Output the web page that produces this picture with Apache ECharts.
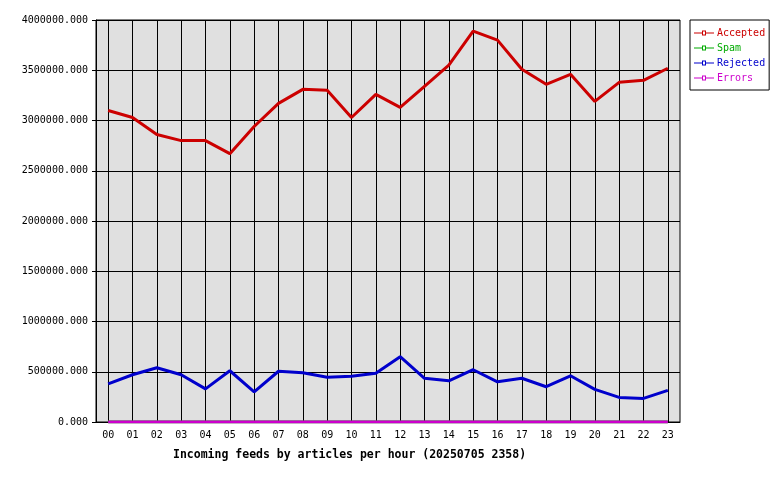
<!DOCTYPE html>
<html>
<head>
<meta charset="utf-8">
<script src="https://cdn.jsdelivr.net/npm/echarts@6/dist/echarts.min.js"></script>
<style>html,body{margin:0;padding:0;background:#fff}#c{width:780px;height:480px}</style>
</head>
<body>
<div id="c"></div>
<script>
const hours = ['00','01','02','03','04','05','06','07','08','09','10','11','12','13','14','15','16','17','18','19','20','21','22','23'];
const accepted = [3100000,3030000,2860000,2800000,2800000,2670000,2940000,3170000,3310000,3300000,3030000,3260000,3130000,3340000,3550000,3890000,3800000,3510000,3360000,3460000,3190000,3380000,3400000,3520000];
const spam = [0,0,0,0,0,0,0,0,0,0,0,0,0,0,0,0,0,0,0,0,0,0,0,0];
const rejected = [380000,470000,540000,470000,330000,510000,300000,505000,490000,445000,455000,485000,650000,435000,410000,520000,400000,435000,351000,460000,325000,245000,235000,315000];
const errors = [0,0,0,0,0,0,0,0,0,0,0,0,0,0,0,0,0,0,0,0,0,0,0,0];
const yTicks = {min: 0, max: 4000000, interval: 500000};
const titleText = 'Incoming feeds by articles per hour (20250705 2358)';

const font = 'DejaVu Sans Mono';
const colors = {Accepted:'#cc0000', Spam:'#00aa00', Rejected:'#0000cc', Errors:'#cc00cc'};
const legendIcon = 'path://M0,4.5H8V5.5H0Z M12,4.5H20V5.5H12Z M8,2.5H12V3.5H8Z M8,6.5H12V7.5H8Z M8,2.5H9V7.5H8Z M11,2.5H12V7.5H11Z';
function mk(name, data, z) {
  return {name, type:'line', data, showSymbol:false, symbol:'none', z,
    lineStyle:{color:colors[name], width:3}, itemStyle:{color:colors[name]}, animation:false};
}
const chart = echarts.init(document.getElementById('c'));
chart.setOption({
  animation:false,
  backgroundColor:'#ffffff',
  title:{text:titleText, left:168, top:444, textStyle:{fontFamily:font, fontSize:11.5, fontWeight:'bold', color:'#000'}},
  legend:{
    left:690, top:20, orient:'vertical', backgroundColor:'#fff', borderColor:'#000', borderWidth:1,
    padding:[8,4,7,4], itemWidth:20, itemHeight:10, itemGap:5, symbolKeepAspect:true,
    itemStyle:{borderWidth:0},
    textStyle:{fontFamily:font, fontSize:10, padding:[0,0,0,-2]},
    data:Object.keys(colors).map(n=>({name:n, icon:legendIcon, textStyle:{color:colors[n]}}))
  },
  grid:{left:96, right:100, top:20, bottom:58, show:true, backgroundColor:'#e0e0e0', borderColor:'#000', borderWidth:1},
  xAxis:{type:'category', data:hours, boundaryGap:true,
    axisLine:{lineStyle:{color:'#000'}}, axisTick:{show:false},
    axisLabel:{fontFamily:font, fontSize:10, color:'#000', margin:8},
    splitLine:{show:true, alignWithLabel:true, lineStyle:{color:'#000', width:1}}},
  yAxis:{type:'value', min:yTicks.min, max:yTicks.max, interval:yTicks.interval,
    axisLine:{show:true, lineStyle:{color:'#000'}}, axisTick:{show:true, length:4, lineStyle:{color:'#000'}},
    axisLabel:{fontFamily:font, fontSize:10, color:'#000', margin:8, formatter:v=>v.toFixed(3)},
    splitLine:{show:true, lineStyle:{color:'#000', width:1}}},
  series:[mk('Accepted',accepted,4), mk('Spam',spam,3), mk('Rejected',rejected,5), mk('Errors',errors,6)]
});
</script>
</body>
</html>
